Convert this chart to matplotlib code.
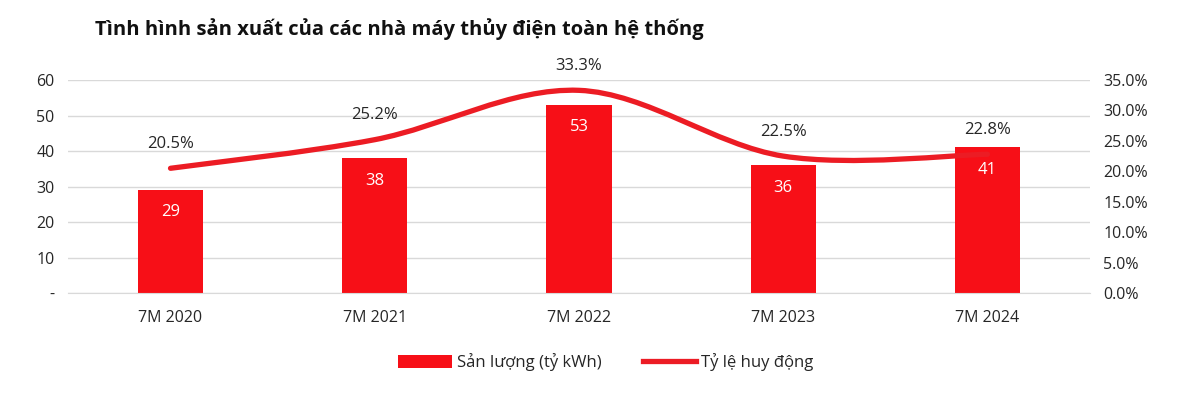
import numpy as np
import matplotlib.pyplot as plt
from matplotlib.path import Path
from matplotlib.patches import PathPatch
from matplotlib.lines import Line2D
from matplotlib.patches import Patch

plt.rcParams['font.family'] = ['Open Sans', 'DejaVu Sans']

categories = ['7M 2020', '7M 2021', '7M 2022', '7M 2023', '7M 2024']
san_luong = [29, 38, 53, 36, 41]
ty_le = [20.5, 25.2, 33.3, 22.5, 22.8]

red = '#f70f17'
line_red = '#ec1c24'
text_col = '#262626'

fig = plt.figure(figsize=(12, 3.94), dpi=100)
ax = fig.add_axes([0.057, 0.256, 0.851, 0.541])
ax2 = ax.twinx()

x = np.arange(len(categories))
ax.bar(x, san_luong, width=0.32, color=red, zorder=2)
for xi, v in zip(x, san_luong):
    ax.text(xi, v - 6.3, f'{v}', ha='center', va='center', color='white', fontsize=12, zorder=3)

ax.set_xlim(-0.5, len(categories) - 0.5)
ax.set_ylim(0, 60)
ax.set_yticks(np.arange(0, 61, 10))
ax.set_yticklabels(['-'] + [str(t) for t in range(10, 61, 10)])
ax.yaxis.grid(True, color='#d9d9d9', linewidth=1)
ax.set_axisbelow(True)
ax.set_xticks(x)
ax.set_xticklabels(categories)
ax.tick_params(axis='both', length=0, labelsize=11.5, colors=text_col, pad=10)
ax.tick_params(axis='x', pad=12)
for s in ax.spines.values():
    s.set_visible(False)
ax.spines['bottom'].set_visible(True)
ax.spines['bottom'].set_color('#d9d9d9')

# smoothed line (Bezier segments through the data points)
pts = np.column_stack([x, ty_le]).astype(float)
verts = [tuple(pts[0])]
codes = [Path.MOVETO]
n = len(pts)
for i in range(n - 1):
    p0 = pts[max(i - 1, 0)]
    p1 = pts[i]
    p2 = pts[i + 1]
    p3 = pts[min(i + 2, n - 1)]
    c1 = p1 + (p2 - p0) / 6
    c2 = p2 - (p3 - p1) / 6
    verts += [tuple(c1), tuple(c2), tuple(p2)]
    codes += [Path.CURVE4] * 3
ax2.add_patch(PathPatch(Path(verts, codes), facecolor='none', edgecolor=line_red,
                        linewidth=3.8, capstyle='round', zorder=4))
for xi, v in zip(x, ty_le):
    ax2.text(xi, v + 4.0, f'{v:.1f}%', ha='center', va='center', color=text_col, fontsize=12)

ax2.set_ylim(0, 35)
ax2.set_yticks(np.arange(0, 36, 5))
ax2.set_yticklabels([f'{t:.1f}%' for t in range(0, 36, 5)])
ax2.tick_params(axis='y', length=0, labelsize=11.5, colors=text_col, pad=10)
for s in ax2.spines.values():
    s.set_visible(False)

fig.text(0.079, 0.925, 'Tình hình sản xuất của các nhà máy thủy điện toàn hệ thống',
         fontsize=14.5, fontweight='bold', color='#111111', ha='left', va='center')

handles = [Patch(facecolor=red, edgecolor='none'),
           Line2D([0], [0], color=line_red, linewidth=3.8)]
fig.legend(handles, ['Sản lượng (tỷ kWh)', 'Tỷ lệ huy động'], loc='center',
           bbox_to_anchor=(0.505, 0.08), ncol=2, frameon=False, fontsize=12,
           handlelength=3.2, handleheight=0.8, columnspacing=2.5, handletextpad=0.3,
           labelcolor=text_col)

fig.savefig('out.png', dpi=100, facecolor='white')
